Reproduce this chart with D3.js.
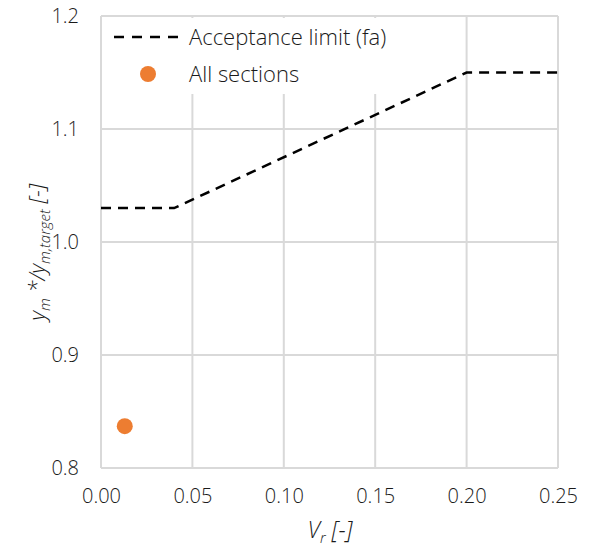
<!DOCTYPE html>
<html><head><meta charset="utf-8">
<script src="https://cdn.jsdelivr.net/npm/d3@7"></script>
<style>body{margin:0;background:#fff;} text{font-family:"Open Sans","Noto Sans",sans-serif;font-weight:300;}</style>
</head><body>
<svg id="c" width="593" height="548"></svg>
<script>
const limitX = [0, 0.04, 0.20, 0.25];
const limitY = [1.03, 1.03, 1.15, 1.15];
const pointsX = [0.013];
const pointsY = [0.837];
const xTicks = [0, 0.05, 0.10, 0.15, 0.20, 0.25];
const yTicks = [0.8, 0.9, 1.0, 1.1, 1.2];
const seriesNames = ["Acceptance limit (fa)", "All sections"];

const svg = d3.select("#c");
const m = {l:101, r:35, t:16, b:80};
const W = 593, H = 548;
const x = d3.scaleLinear().domain([0,0.25]).range([m.l, W-m.r]);
const y = d3.scaleLinear().domain([0.8,1.2]).range([H-m.b, m.t]);
const grid = "#d9d9d9", txt = "#1a1a1a";

// gridlines
svg.append("g").selectAll("line").data(xTicks).join("line")
  .attr("x1", d=>x(d)).attr("x2", d=>x(d)).attr("y1", y(0.8)).attr("y2", y(1.2))
  .attr("stroke", grid).attr("stroke-width", 2);
svg.append("g").selectAll("line").data(yTicks).join("line")
  .attr("x1", x(0)).attr("x2", x(0.25)).attr("y1", d=>y(d)).attr("y2", d=>y(d))
  .attr("stroke", grid).attr("stroke-width", 2);

// axes labels via d3 axes
const xa = svg.append("g").attr("transform", `translate(0,${y(0.8)})`)
  .call(d3.axisBottom(x).tickValues(xTicks).tickFormat(d3.format(".2f")).tickSize(0).tickPadding(21));
const ya = svg.append("g").attr("transform", `translate(${x(0)},0)`)
  .call(d3.axisLeft(y).tickValues(yTicks).tickFormat(d3.format(".1f")).tickSize(0).tickPadding(22));
[xa, ya].forEach(a => {
  a.select(".domain").remove();
  a.selectAll("text").attr("font-size", 20).attr("fill", txt)
    .attr("font-family", "'Open Sans',sans-serif").attr("font-weight", 300);
});

// legend background
svg.append("rect").attr("x", x(0)+2).attr("y", y(1.2)+2).attr("width", 300).attr("height", 76).attr("fill", "#fff");

// dashed line
const line = d3.line().x(d=>x(d[0])).y(d=>y(d[1]));
svg.append("path").datum(limitX.map((v,i)=>[v, limitY[i]]))
  .attr("d", line).attr("fill", "none").attr("stroke", "#000")
  .attr("stroke-width", 2.5).attr("stroke-dasharray", "10,7");

// points
svg.append("g").selectAll("circle").data(pointsX.map((v,i)=>[v, pointsY[i]])).join("circle")
  .attr("cx", d=>x(d[0])).attr("cy", d=>y(d[1])).attr("r", 8).attr("fill", "#ed7d31");

// legend
const lg = svg.append("g");
lg.append("line").attr("x1", 114).attr("x2", 181).attr("y1", 37).attr("y2", 37)
  .attr("stroke", "#000").attr("stroke-width", 2.5).attr("stroke-dasharray", "10,8");
lg.append("circle").attr("cx", 148).attr("cy", 74).attr("r", 8).attr("fill", "#ed7d31");
lg.selectAll("text").data(seriesNames).join("text")
  .attr("x", 189).attr("y", (d,i)=> i===0 ? 45 : 82).attr("font-size", 22).attr("fill", txt).text(d=>d);

// axis titles
const xt = svg.append("text").attr("x", 330).attr("y", 538).attr("text-anchor", "middle")
  .attr("font-size", 23).attr("font-style", "italic").attr("fill", txt);
xt.append("tspan").text("V");
xt.append("tspan").attr("font-size", 15).attr("dy", 5).text("r");
xt.append("tspan").attr("dy", -5).text(" [-]");

const yt = svg.append("text").attr("transform", `translate(45,${y(1.0)+10}) rotate(-90)`)
  .attr("text-anchor", "middle").attr("font-size", 22).attr("font-style", "italic").attr("fill", txt);
yt.append("tspan").text("y");
yt.append("tspan").attr("font-size", 15).attr("dy", 5).text("m");
yt.append("tspan").attr("dy", -5).text(" */y");
yt.append("tspan").attr("font-size", 15).attr("dy", 5).text("m,target");
yt.append("tspan").attr("dy", -5).text(" [-]");
</script>
</body></html>
